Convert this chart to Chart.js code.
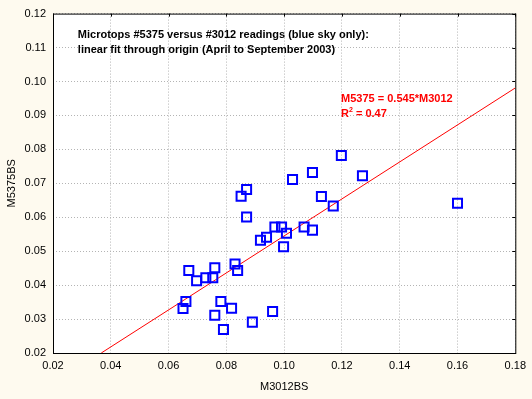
<!DOCTYPE html>
<html>
<head>
<meta charset="utf-8">
<script src="https://cdn.jsdelivr.net/npm/chart.js@4.4.1/dist/chart.umd.min.js"></script>
<style>
  html, body { margin: 0; padding: 0; background: #fefaef; }
  #wrap { width: 532px; height: 399px; }
</style>
</head>
<body>
<div id="wrap"><canvas id="chart"></canvas></div>
<script>
// readings: M3012BS (x) vs M5375BS (y)
const m3012 = [0.0650, 0.0660, 0.0670, 0.0697, 0.0729, 0.0753, 0.0760, 0.0760, 0.0781, 0.0790,
               0.0818, 0.0830, 0.0839, 0.0851, 0.0870, 0.0870, 0.0890, 0.0918, 0.0939, 0.0960,
               0.0968, 0.0991, 0.0998, 0.1008, 0.1029, 0.1069, 0.1098, 0.1098, 0.1129, 0.1170,
               0.1198, 0.1271, 0.1600];
const m5375 = [0.0331, 0.0352, 0.0443, 0.0413, 0.0422, 0.0422, 0.0451, 0.0311, 0.0352, 0.0269,
               0.0332, 0.0462, 0.0443, 0.0662, 0.0682, 0.0601, 0.0291, 0.0532, 0.0541, 0.0322,
               0.0571, 0.0571, 0.0513, 0.0553, 0.0711, 0.0571, 0.0732, 0.0562, 0.0661, 0.0633,
               0.0782, 0.0722, 0.0641];

// fitted line through origin, endpoints read at the frame edges
const fitX = [0.0367, 0.18];
const fitY = [0.0200, 0.0981];

const xTicks = [0.02, 0.04, 0.06, 0.08, 0.10, 0.12, 0.14, 0.16, 0.18];
const yTicks = [0.02, 0.03, 0.04, 0.05, 0.06, 0.07, 0.08, 0.09, 0.10, 0.11, 0.12];

const titleLines = ['Microtops #5375 versus #3012 readings (blue sky only):',
                    'linear fit through origin (April to September 2003)'];
const fitLabel = 'M5375 = 0.545*M3012';
const r2Value = '0.47';

// text anchors in data units
const notes = { titleAt: [0.0286, 0.1136], titleGap: 0.0042, fitAt: [0.1197, 0.0949], r2At: [0.1197, 0.0904] };

const FONT = 'Arial, "Liberation Sans", sans-serif';

const decor = {
    id: 'decor',
    beforeDraw(chart) {
        const { ctx, chartArea: a } = chart;
        ctx.save();
        ctx.fillStyle = '#fefaef';
        ctx.fillRect(0, 0, chart.width, chart.height);
        ctx.fillStyle = '#ffffff';
        ctx.fillRect(a.left, a.top, a.right - a.left, a.bottom - a.top);
        ctx.restore();
    },
    afterDraw(chart) {
        const { ctx, chartArea: a, scales } = chart;
        ctx.save();
        ctx.strokeStyle = '#000000';
        ctx.lineWidth = 1;
        ctx.strokeRect(a.left + 0.5, a.top + 0.5, a.right - a.left, a.bottom - a.top);
        ctx.beginPath();
        yTicks.forEach(v => {
            const y = Math.round(scales.y.getPixelForValue(v)) + 0.5;
            ctx.moveTo(a.right - 3, y);
            ctx.lineTo(a.right, y);
        });
        xTicks.forEach(v => {
            const x = Math.round(scales.x.getPixelForValue(v)) + 0.5;
            ctx.moveTo(x, a.top);
            ctx.lineTo(x, a.top + 3);
        });
        ctx.stroke();

        // title text
        const px = v => scales.x.getPixelForValue(v);
        const py = v => scales.y.getPixelForValue(v);
        ctx.textBaseline = 'middle';
        ctx.textAlign = 'left';
        ctx.fillStyle = '#000000';
        ctx.font = 'bold 11px ' + FONT;
        titleLines.forEach((t, i) => {
            ctx.fillText(t, px(notes.titleAt[0]), py(notes.titleAt[1] - i * notes.titleGap));
        });

        // fit equation
        ctx.fillStyle = '#ff0000';
        ctx.fillText(fitLabel, px(notes.fitAt[0]), py(notes.fitAt[1]));
        let x = px(notes.r2At[0]);
        const y = py(notes.r2At[1]);
        ctx.fillText('R', x, y);
        x += ctx.measureText('R').width;
        ctx.font = 'bold 7px ' + FONT;
        ctx.fillText('2', x, y - 4);
        x += ctx.measureText('2').width;
        ctx.font = 'bold 11px ' + FONT;
        ctx.fillText(' = ' + r2Value, x, y);
        ctx.restore();
    }
};

const ctx = document.getElementById('chart').getContext('2d');
new Chart(ctx, {
    type: 'scatter',
    data: {
        datasets: [
            {
                label: 'readings',
                data: m3012.map((v, i) => ({ x: v, y: m5375[i] })),
                pointStyle: 'rect',
                pointRadius: 6.4,
                pointBorderWidth: 2,
                borderColor: '#0000ff',
                backgroundColor: 'rgba(0,0,0,0)',
                order: 0
            },
            {
                type: 'line',
                label: 'fit',
                data: fitX.map((v, i) => ({ x: v, y: fitY[i] })),
                borderColor: '#ff0000',
                borderWidth: 1,
                pointRadius: 0,
                fill: false,
                order: 1
            }
        ]
    },
    options: {
        responsive: true,
        maintainAspectRatio: false,
        animation: false,
        events: [],
        layout: { padding: { left: 0, top: 11, right: 15, bottom: 0 } },
        plugins: {
            legend: { display: false },
            tooltip: { enabled: false }
        },
        scales: {
            x: {
                type: 'linear',
                min: 0.02,
                max: 0.18,
                afterBuildTicks: s => { s.ticks = xTicks.map(v => ({ value: v })); },
                afterFit: s => { s.height = 46; },
                border: { display: false, dash: [1, 2] },
                grid: { color: '#b4b4b4', drawTicks: false },
                ticks: {
                    color: '#000000',
                    padding: 6,
                    maxRotation: 0,
                    font: { family: FONT, size: 11 },
                    callback: v => v.toFixed(2)
                },
                title: {
                    display: true,
                    text: 'M3012BS',
                    color: '#000000',
                    font: { family: FONT, size: 11 },
                    padding: { top: 0, bottom: 5 }
                }
            },
            y: {
                type: 'linear',
                min: 0.02,
                max: 0.12,
                afterBuildTicks: s => { s.ticks = yTicks.map(v => ({ value: v })); },
                afterFit: s => { s.width = 53; },
                border: { display: false, dash: [1, 2] },
                grid: { color: '#b4b4b4', drawTicks: false },
                ticks: {
                    color: '#000000',
                    padding: 7,
                    font: { family: FONT, size: 11 },
                    callback: v => v.toFixed(2)
                },
                title: {
                    display: true,
                    text: 'M5375BS',
                    color: '#000000',
                    font: { family: FONT, size: 11 },
                    padding: { top: 5, bottom: 0 }
                }
            }
        }
    },
    plugins: [decor]
});
</script>
</body>
</html>
